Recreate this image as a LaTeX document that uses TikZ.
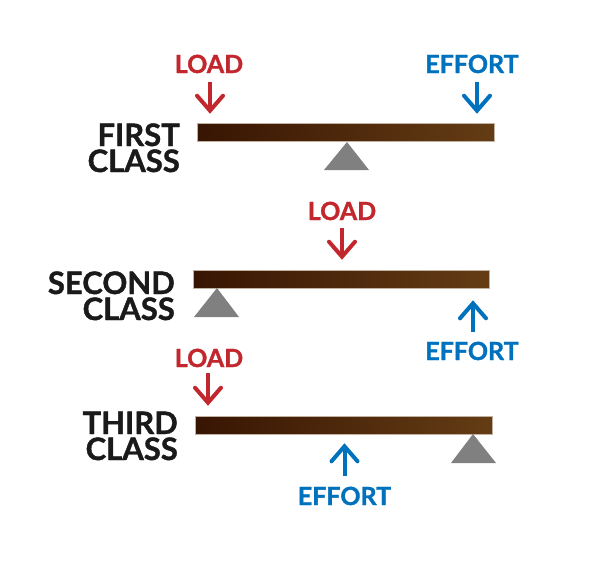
\documentclass[tikz,border=0pt]{standalone}
\usepackage{fontspec}
\setmainfont{Lato}[BoldFeatures={FakeBold=1.2}]
\usetikzlibrary{arrows.meta}
\definecolor{loadred}{HTML}{C1272D}
\definecolor{effblue}{HTML}{0071BC}
\definecolor{labelblack}{HTML}{1A1A1A}
\definecolor{fulcgray}{HTML}{808080}
\definecolor{barleft}{HTML}{381503}
\definecolor{barright}{HTML}{643C14}
\begin{document}
\begin{tikzpicture}[x=1pt,y=-1pt,
  lbl/.style={inner sep=0pt,text=labelblack,font=\fontsize{31}{26}\selectfont\bfseries,align=right,anchor=base east},
  loadtxt/.style={inner sep=0pt,text=loadred,font=\fontsize{25}{25}\selectfont\bfseries,anchor=base},
  efftxt/.style={inner sep=0pt,text=effblue,font=\fontsize{25}{25}\selectfont\bfseries,anchor=base},
  lever/.style={draw=barright!40!white,line width=0.5pt,left color=barleft,right color=barright,minimum height=18pt,inner sep=0pt},
  loadarr/.style={draw=loadred,line width=4pt,-{Straight Barb[length=15pt,width=26pt,line cap=round]}},
  effarr/.style={draw=effblue,line width=4pt,-{Straight Barb[length=15pt,width=26pt,line cap=round]}},
  fulcrum/.style={fill=fulcgray}
]
\useasboundingbox (0,0) rectangle (600,574);
% first class
\node[lever,minimum width=297pt] (bar1) at (345.5,132) {};
\fill[fulcrum] (347,142) -- (369,170) -- (324,170) -- cycle;
\node[lbl] (c1) at (180,172) {FIRST\\CLASS};
\node[loadtxt] (ld1) at (209,73) {LOAD};
\node[efftxt] (ef1) at (472,73) {EFFORT};
\draw[loadarr] ([xshift=1pt,yshift=-9pt]ld1.base) -- ([xshift=1pt,yshift=9pt]ld1.base |- bar1.north);
\draw[effarr] ([xshift=5pt,yshift=-9pt]ef1.base) -- ([xshift=5pt,yshift=9pt]ef1.base |- bar1.north);
% second class
\node[lever,minimum width=296pt] (bar2) at (341,279) {};
\fill[fulcrum] (217,288) -- (239,317) -- (194,317) -- cycle;
\node[lbl] (c2) at (175,320) {SECOND\\CLASS};
\node[loadtxt] (ld2) at (342,220) {LOAD};
\node[efftxt] (ef2) at (472,360) {EFFORT};
\draw[loadarr] ([yshift=-8pt]ld2.base) -- ([yshift=10pt]ld2.base |- bar2.north);
\draw[effarr] ([xshift=1pt,yshift=28pt]ef2.base) -- ([xshift=1pt,yshift=-12pt]ef2.base |- bar2.south);
% third class
\node[lever,minimum width=297pt] (bar3) at (343.5,425) {};
\fill[fulcrum] (473,434) -- (496,463) -- (451,463) -- cycle;
\node[lbl] (c3) at (178,460) {THIRD\\CLASS};
\node[loadtxt] (ld3) at (209,367) {LOAD};
\node[efftxt] (ef3) at (344.5,505) {EFFORT};
\draw[loadarr] ([xshift=-1pt,yshift=-6pt]ld3.base) -- ([xshift=-1pt,yshift=10pt]ld3.base |- bar3.north);
\draw[effarr] ([yshift=29pt]ef3.base) -- ([yshift=-9pt]ef3.base |- bar3.south);
\end{tikzpicture}
\end{document}
